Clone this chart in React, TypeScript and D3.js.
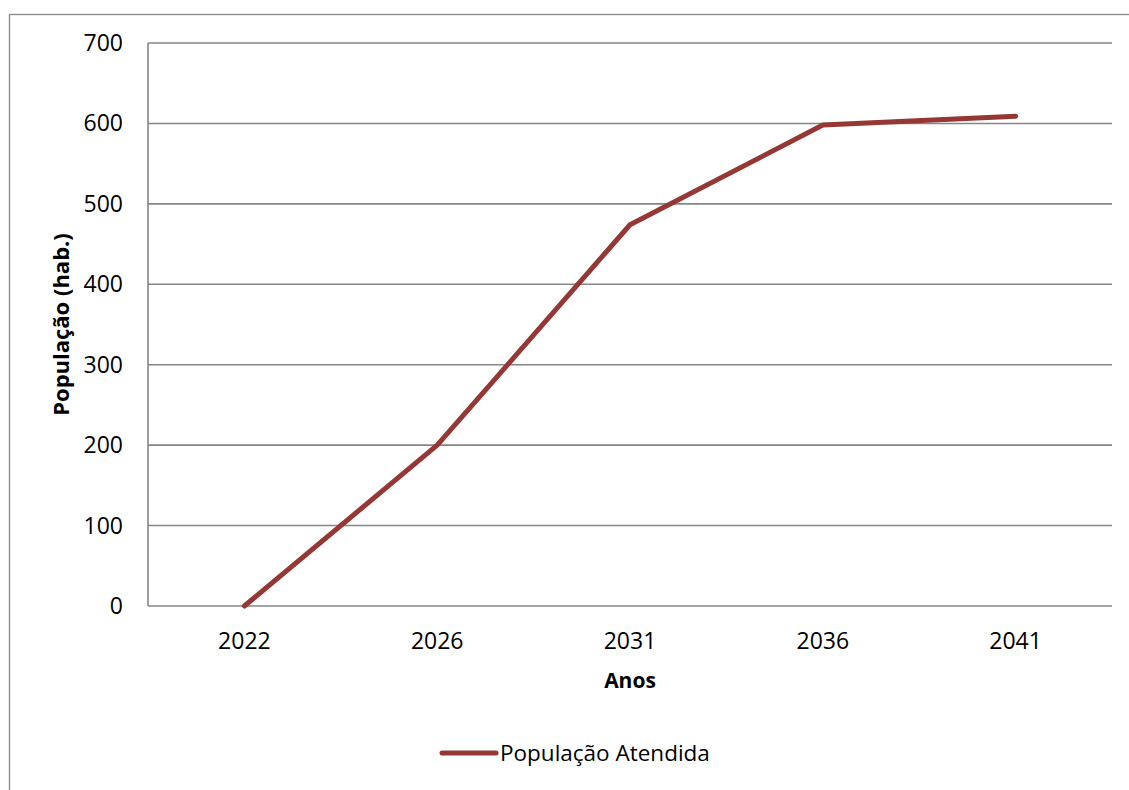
import React from "react";
import * as d3 from "d3";

const categories = ["2022", "2026", "2031", "2036", "2041"];
const populacao = [0, 200, 474, 598, 609];
const yTicks = [0, 100, 200, 300, 400, 500, 600, 700];
const seriesName = "População Atendida";
const xTitle = "Anos";
const yTitle = "População (hab.)";

const W = 1129;
const H = 790;
const plot = { left: 148, right: 1112, top: 43, bottom: 606 };
const FONT = "'Open Sans', sans-serif";
const GRID = "#868686";
const LINE = "#953735";

export default function App() {
  const x = d3
    .scaleBand<string>()
    .domain(categories)
    .range([plot.left, plot.right])
    .padding(0);
  const y = d3.scaleLinear().domain([0, 700]).range([plot.bottom, plot.top]);
  const cx = (c: string) => (x(c) as number) + x.bandwidth() / 2;

  const line = d3
    .line<number>()
    .x((_, i) => cx(categories[i]))
    .y((d) => y(d));

  return (
    <svg
      width={W}
      height={H}
      style={{ position: "absolute", left: 0, top: 0, background: "#fff" }}
    >
      <rect x={9.5} y={14.5} width={W + 20} height={H + 20} fill="#fff" stroke={GRID} strokeWidth={1.3} />
      {yTicks.map((t) => (
        <line key={t} x1={plot.left} x2={plot.right} y1={y(t)} y2={y(t)} stroke={GRID} strokeWidth={1.6} />
      ))}
      <line x1={plot.left} x2={plot.left} y1={plot.top} y2={plot.bottom} stroke={GRID} strokeWidth={1.6} />
      {yTicks.map((t) => (
        <text
          key={"l" + t}
          x={123}
          y={y(t)}
          dy="0.35em"
          textAnchor="end"
          fontFamily={FONT}
          fontSize={23}
          fill="#000"
        >
          {t}
        </text>
      ))}
      {categories.map((c) => (
        <text key={c} x={cx(c)} y={649} textAnchor="middle" fontFamily={FONT} fontSize={23} fill="#000">
          {c}
        </text>
      ))}
      <path d={line(populacao) || ""} fill="none" stroke={LINE} strokeWidth={5} strokeLinejoin="round" strokeLinecap="round" />
      <text x={(plot.left + plot.right) / 2} y={688} textAnchor="middle" fontFamily={FONT} fontSize={21} fontWeight="bold" fill="#000">
        {xTitle}
      </text>
      <text
        transform={`translate(69, ${(plot.top + plot.bottom) / 2}) rotate(-90)`}
        textAnchor="middle"
        fontFamily={FONT}
        fontSize={22}
        fontWeight="bold"
        fill="#000"
      >
        {yTitle}
      </text>
      <line x1={442} x2={496} y1={753} y2={753} stroke={LINE} strokeWidth={5} strokeLinecap="round" />
      <text x={500} y={761} fontFamily={FONT} fontSize={22.5} fill="#000">
        {seriesName}
      </text>
    </svg>
  );
}
